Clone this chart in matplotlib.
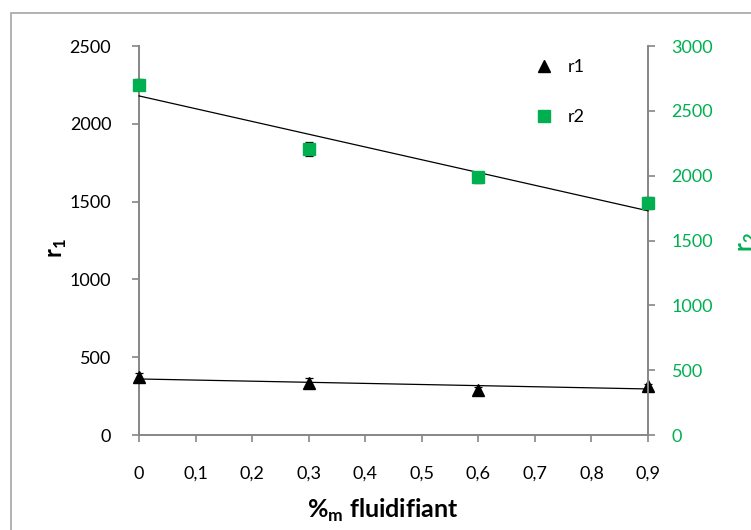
import matplotlib
matplotlib.use("Agg")
import matplotlib.pyplot as plt
import numpy as np
from matplotlib.patches import Rectangle
from matplotlib.lines import Line2D
from matplotlib.ticker import FuncFormatter

# data
x = [0, 0.3, 0.6, 0.9]
r1 = [371, 335, 292, 314]
r1_err = [30, 30, 15, 15]
r2 = [2702, 2208, 1987, 1791]
r2_err = [45, 55, 45, 45]
x_ticks = [0, 0.1, 0.2, 0.3, 0.4, 0.5, 0.6, 0.7, 0.8, 0.9]
r1_ticks = [0, 500, 1000, 1500, 2000, 2500]
r2_ticks = [0, 500, 1000, 1500, 2000, 2500, 3000]

GREEN = "#00b050"
GRAY = "#868686"
plt.rcParams['font.family'] = ['Lato', 'DejaVu Sans']
plt.rcParams['mathtext.fontset'] = 'custom'
plt.rcParams['mathtext.rm'] = 'Lato'
plt.rcParams['mathtext.bf'] = 'Lato:bold'

W, H = 751, 530
fig = plt.figure(figsize=(W/100, H/100), dpi=100)
ax = fig.add_axes([139/W, 1-435/H, (648-139)/W, (435-46)/H])
ax2 = ax.twinx()

# outer border
fig.patches.append(Rectangle((11/W, -0.1), 1.2, 1-13/H+0.1, transform=fig.transFigure,
                             fill=False, edgecolor="#a6a6a6", linewidth=1.2))

# trend lines
xx = np.array([0, 0.9])
p1 = np.polyfit(x, r1, 1)
p2 = np.polyfit(x, r2, 1)
ax.plot(xx, np.polyval(p1, xx), color="black", lw=0.9, clip_on=False, zorder=3)
ax2.plot(xx, np.polyval(p2, xx), color="black", lw=0.9, clip_on=False, zorder=3)

ax.errorbar(x, r1, yerr=r1_err, fmt='^', color='black', ms=9, ecolor='black',
            elinewidth=0.9, capsize=3, capthick=0.9, clip_on=False, zorder=4)
ax2.errorbar(x, r2, yerr=r2_err, fmt='s', color=GREEN, ms=8.5, ecolor='black',
             elinewidth=0.9, capsize=3, capthick=0.9, clip_on=False, zorder=4)

ax.set_xlim(0, 0.9)
ax.set_ylim(0, 2500)
ax2.set_ylim(0, 3000)
ax.set_xticks(x_ticks)
ax.set_yticks(r1_ticks)
ax2.set_yticks(r2_ticks)
ax.xaxis.set_major_formatter(FuncFormatter(lambda v, p: f"{v:.1f}".replace('.', ',') if v != 0 else "0"))

for a in (ax, ax2):
    a.patch.set_visible(False)
    a.spines['top'].set_visible(False)
    for s in a.spines.values():
        s.set_color(GRAY)
        s.set_linewidth(1.4)
ax.spines['right'].set_visible(False)
ax2.spines['left'].set_visible(False)
ax2.spines['bottom'].set_visible(False)

ax.tick_params(axis='y', direction='out', length=5, width=1.2, color=GRAY,
               labelsize=13, pad=15, labelcolor='black')
ax.tick_params(axis='x', direction='out', length=5, width=1.2, color=GRAY,
               labelsize=13, pad=17, labelcolor='black')
ax2.tick_params(axis='y', direction='out', length=5, width=1.2, color=GRAY,
                labelsize=13, pad=12, labelcolor=GREEN)

fig.text(383/W, 1-510/H, r"%$_{\mathregular{m}}$ fluidifiant", fontsize=18, fontweight='bold',
         ha='center', va='center')
fig.text(46/W, 1-248/H, r"r$_{\mathbf{1}}$", rotation=90, fontsize=17, fontweight='bold',
         ha='left', va='center')
fig.text(736/W, 1-242/H, r"r$_{\mathbf{2}}$", rotation=90, fontsize=17, fontweight='bold',
         ha='left', va='center', color=GREEN)

hl = [Line2D([], [], marker='^', color='black', ls='', ms=9),
      Line2D([], [], marker='s', color=GREEN, ls='', ms=8.5)]
fig.legend(hl, ['r1', 'r2'], loc='upper left', bbox_to_anchor=(526/W, 1-50/H),
           frameon=False, fontsize=13, labelspacing=1.9, handlelength=1.0, handletextpad=0.8,
           borderpad=0)

fig.savefig("out.png", dpi=100)
